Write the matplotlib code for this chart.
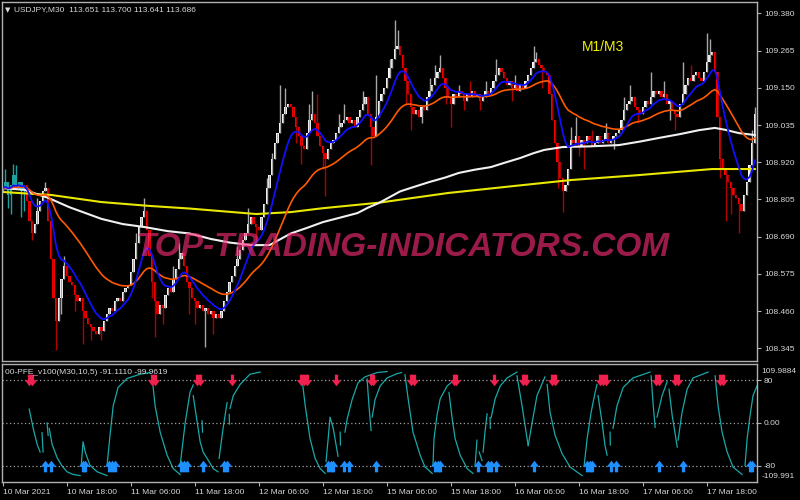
import numpy as np
import pandas as pd
import matplotlib
matplotlib.use("Agg")
import matplotlib.pyplot as plt
from matplotlib.path import Path

plt.rcParams['font.family'] = ['Liberation Sans', 'DejaVu Sans']

# USDJPY M30 closes, one per bar (10 Mar -> 17 Mar 2021)
close = [
    108.84, 108.86, 108.82, 108.85, 108.88, 108.84, 108.86, 108.83, 108.85,          # 0-8
    108.80, 108.74, 108.70, 108.73, 108.77, 108.80, 108.83, 108.84,                  # 9-16
    108.74, 108.62, 108.50, 108.43, 108.50, 108.56, 108.60,                          # 17-23
    108.57, 108.55, 108.54, 108.51, 108.49, 108.50, 108.46, 108.44, 108.42, 108.41, 108.40, 108.39,  # 24-35
    108.41, 108.40, 108.43, 108.45, 108.47, 108.46, 108.49, 108.50, 108.49, 108.52, 108.53, 108.54,  # 36-47
    108.58, 108.62, 108.67, 108.72, 108.75, 108.77,                                  # 48-53
    108.71, 108.63, 108.55, 108.49, 108.45,                                          # 54-58
    108.48, 108.47, 108.51, 108.53, 108.52, 108.56, 108.59, 108.62, 108.64,          # 59-67
    108.60, 108.55, 108.53, 108.50, 108.49, 108.47,                                  # 68-73
    108.48, 108.46, 108.47, 108.45, 108.46, 108.44, 108.45, 108.44, 108.46,          # 74-82
    108.49, 108.52, 108.55, 108.57, 108.60, 108.62, 108.65, 108.68, 108.70, 108.73, 108.75,  # 83-93
    108.73, 108.72, 108.71,                                                          # 94-96
    108.75, 108.79, 108.84, 108.88, 108.93, 108.98, 109.01, 109.04, 109.07, 109.09, 109.10, 109.09,  # 97-108
    109.06, 109.03, 109.00, 108.97, 108.96,                                          # 109-113
    109.01, 109.05, 109.07,                                                          # 114-116
    109.04, 109.00, 108.97, 108.95, 108.93,                                          # 117-121
    108.96, 108.98, 108.99, 109.01, 109.03, 109.04, 109.05, 109.06,                  # 122-129
    109.04, 109.05, 109.03, 109.06,                                                  # 130-133
    109.08, 109.10, 109.12, 109.07, 109.03, 109.00, 109.06, 109.11,                  # 134-141
    109.13, 109.15, 109.18, 109.21, 109.24, 109.27, 109.28,                          # 142-148
    109.25, 109.21, 109.17, 109.13, 109.09, 109.07,                                  # 149-154
    109.08, 109.06, 109.09, 109.08,                                                  # 155-158
    109.12, 109.14, 109.16, 109.18, 109.20, 109.21,                                  # 159-164
    109.18, 109.15, 109.12, 109.10,                                                  # 165-168
    109.13, 109.12, 109.14, 109.13, 109.11, 109.13, 109.12, 109.14,
    109.12, 109.13, 109.11, 109.12, 109.14, 109.13, 109.15,                          # 169-183
    109.17, 109.19, 109.21, 109.20,                                                  # 184-187
    109.18, 109.16, 109.17, 109.15, 109.16, 109.14, 109.16, 109.15, 109.17,          # 188-196
    109.19, 109.21, 109.23, 109.24,                                                  # 197-200
    109.22, 109.21, 109.20, 109.19,                                                  # 201-204
    109.13, 109.05, 108.98, 108.92, 108.87, 108.83,                                  # 205-210
    108.85, 108.90, 108.99,                                                          # 211-213
    108.98, 109.00, 108.97, 108.99, 108.98, 109.00, 108.99, 108.97, 108.98,
    109.00, 108.98, 108.99, 109.01, 108.98, 108.99, 109.00, 109.01, 109.02,          # 214-231
    109.05, 109.08, 109.10, 109.11, 109.12,                                          # 232-236
    109.09, 109.08, 109.07,                                                          # 237-239
    109.09, 109.11, 109.10, 109.12, 109.14, 109.13, 109.14,                          # 240-246
    109.12, 109.13, 109.10, 109.11, 109.08, 109.07, 109.06,                          # 247-253
    109.10, 109.13, 109.16, 109.18, 109.17, 109.19, 109.20,                          # 254-260
    109.18, 109.17, 109.20, 109.23, 109.25, 109.26,                                  # 261-266
    109.20, 109.06, 108.93,                                                          # 267-269
    108.90, 108.88, 108.86, 108.84, 108.82, 108.81, 108.79, 108.77,                  # 270-277
    108.82, 108.86, 108.91, 108.98, 109.07,                                          # 278-282
]
first_open = 108.83

# long wicks (bar, price)
wick_hi = [(1, 108.90), (4, 108.915), (5, 108.91), (13, 108.81), (16, 108.86), (23, 108.63),
           (50, 108.70), (53, 108.81), (64, 108.60), (66, 108.67), (88, 108.66), (92, 108.78),
           (99, 108.87), (101, 108.95), (104, 109.16), (106, 109.15), (115, 109.10),
           (116, 109.14), (118, 109.13), (126, 109.07), (128, 109.10), (135, 109.14),
           (140, 109.19), (145, 109.24), (147, 109.36), (148, 109.33), (160, 109.18),
           (162, 109.22), (164, 109.25), (171, 109.16), (175, 109.17), (181, 109.17),
           (185, 109.24), (192, 109.19), (199, 109.28), (200, 109.26), (213, 109.03),
           (215, 109.06), (221, 109.02), (226, 109.04), (233, 109.12), (235, 109.16),
           (243, 109.20), (248, 109.17), (255, 109.23), (258, 109.22), (264, 109.32),
           (265, 109.30), (281, 109.02), (282, 109.09)]
wick_lo = [(2, 108.78), (3, 108.76), (7, 108.75), (8, 108.77), (11, 108.68), (20, 108.34),
           (22, 108.45), (27, 108.46), (30, 108.36), (33, 108.37), (37, 108.37), (56, 108.50),
           (57, 108.38), (60, 108.42), (70, 108.45), (72, 108.42), (76, 108.35), (79, 108.39),
           (95, 108.68), (110, 108.98), (112, 108.915), (120, 108.90), (121, 108.815),
           (138, 108.91), (151, 109.10), (153, 109.02), (157, 109.04), (166, 109.10),
           (168, 109.03), (173, 109.08), (179, 109.08), (191, 109.11), (202, 109.15),
           (208, 108.84), (210, 108.765), (216, 108.94), (218, 108.90), (229, 108.96),
           (238, 109.04), (250, 109.05), (252, 109.02), (269, 108.87), (271, 108.74),
           (273, 108.76), (276, 108.70)]
n_cyan = 9  # first bars drawn in teal

# slow averages (bar, price)
white_ma = [(0, 108.840), (8, 108.835), (17, 108.810), (25, 108.781), (37, 108.745),
            (45, 108.729), (53, 108.720), (62, 108.707), (70, 108.700), (78, 108.683),
            (85, 108.672), (93, 108.664), (100, 108.664), (108, 108.700), (114, 108.717),
            (120, 108.735), (127, 108.750), (133, 108.763), (137, 108.780), (141, 108.794),
            (145, 108.812), (149, 108.830), (155, 108.846), (160, 108.859), (166, 108.873),
            (171, 108.887), (177, 108.897), (183, 108.905), (188, 108.918), (194, 108.933),
            (199, 108.948), (203, 108.958), (210, 108.967), (220, 108.969), (231, 108.973),
            (239, 108.984), (246, 108.995), (254, 109.007), (261, 109.019), (267, 109.026),
            (271, 109.020), (276, 109.010), (282, 109.004)]
yellow_ma = [(0, 108.828), (18, 108.819), (37, 108.797), (55, 108.785), (70, 108.777),
             (95, 108.760), (108, 108.766), (120, 108.778), (141, 108.795), (167, 108.825),
             (191, 108.846), (213, 108.865), (238, 108.880), (266, 108.899), (282, 108.899)]

price_ticks = [109.380, 109.265, 109.150, 109.035, 108.920, 108.805, 108.690, 108.575, 108.460, 108.345]
date_ticks = list(range(0, 265, 24))
date_labels = ['10 Mar 2021', '10 Mar 18:00', '11 Mar 06:00', '11 Mar 18:00', '12 Mar 06:00',
               '12 Mar 18:00', '15 Mar 06:00', '15 Mar 18:00', '16 Mar 06:00', '16 Mar 18:00',
               '17 Mar 06:00', '17 Mar 18:00']

# PFE oscillator, drawn as broken pieces (bar, value)
pfe_segments = [
    [(9.9, 26), (11.4, -10), (12.9, -40), (14.0, -54)],
    [(14.7, -18), (15.1, -54)],
    [(16.6, 0), (17.0, -23)],
    [(17.4, -10), (18.5, -40), (20.4, -65), (22.2, -80), (24.1, -91), (26.4, -96), (29.0, -98)],
    [(29.4, -79), (30.1, -35), (30.9, -54), (32.7, -79), (35.4, -91), (39.1, -98)],
    [(39.1, -79), (40.2, -23), (41.4, 32), (43.2, 66), (46.6, 83), (51.5, 91), (55.2, 94)],
    [(56.0, 85), (57.1, 32), (59.0, -17), (61.6, -60), (63.9, -85), (66.5, -96)],
    [(66.5, -79), (68.4, 1), (70.2, 57), (71.4, 71)],
    [(71.4, 51), (72.9, 1), (74.0, -35), (75.1, -54), (76.6, -66), (78.9, -85), (80.7, -91)],
    [(74.7, 4), (74.9, -17)],
    [(81.1, -66), (82.6, -10), (84.1, 38)],
    [(84.9, 16), (85.0, -2)],
    [(85.2, 27), (86.4, 51), (89.0, 72), (92.7, 91), (96.5, 95)],
    [(112.2, 82), (113.4, 32), (115.2, -29), (117.1, -66), (119.0, -85), (120.9, -94)],
    [(121.2, -72), (122.0, -29), (122.7, 11), (123.9, -10), (125.7, -62)],
    [(126.5, -17), (126.6, -41)],
    [(128.3, -17), (129.1, 7), (131.0, 44), (133.2, 75), (135.8, 86), (140.3, 94), (144.1, 96)],
    [(136.6, 82), (137.3, 32), (138.1, -14)],
    [(138.5, 11), (139.6, 44), (141.5, 69), (144.1, 84), (147.8, 92), (149.5, 94)],
    [(150.8, 90), (152.0, 45), (153.8, -17), (156.5, -60), (158.3, -82), (161.0, -94)],
    [(161.3, -79), (161.7, -29), (162.8, 14), (164.0, 45), (166.6, 69), (168.8, 78)],
    [(167.3, 57), (168.5, 8), (169.6, -29), (171.5, -60), (174.1, -85), (176.3, -94)],
    [(177.1, -79), (177.8, -32)],
    [(178.6, -54), (179.7, -70)],
    [(180.1, -54), (180.8, -17), (181.6, 17)],
    [(182.7, 10), (182.8, -10)],
    [(183.1, 10), (184.6, 45), (186.5, 69), (189.1, 84), (192.8, 95)],
    [(192.8, 88), (194.7, 32), (196.2, -17), (197.0, -42)],
    [(197.0, -42), (198.5, 1), (200.3, 51), (203.3, 86)],
    [(204.1, 72), (205.2, 20), (207.1, -23), (209.7, -57), (212.7, -82), (217.2, -98)],
    [(218.0, -79), (219.1, -29), (220.6, 20), (222.1, 57), (222.8, 72)],
    [(223.2, 51), (224.7, 1), (225.8, -42), (226.6, -60)],
    [(227.7, -17), (227.8, -41)],
    [(228.8, -10), (230.3, 32), (232.6, 66), (236.3, 84), (242.7, 95)],
    [(243.1, 88), (243.8, 38), (244.6, -8)],
    [(245.3, 11), (247.2, 51), (249.1, 77)],
    [(249.8, 63), (251.0, 14), (252.9, -45)],
    [(253.2, -32), (254.7, 20), (256.6, 63), (258.8, 84), (264.5, 95)],
    [(267.1, 88), (268.2, 32), (269.7, -17), (271.6, -54), (273.8, -82), (277.2, -96)],
    [(278.3, -79), (279.1, -29), (280.2, 14), (281.3, 51), (282.8, 69)],
]
sell_bars = [10, 11, 56, 57, 73, 74, 86, 112, 113, 114, 125, 138, 139, 153, 154, 169, 170,
             184, 195, 196, 206, 207, 224, 225, 226, 245, 246, 252, 253, 269, 270]
buy_bars = [16, 18, 30, 31, 40, 41, 42, 67, 68, 69, 75, 83, 84, 122, 123, 124, 128, 130, 140,
            162, 163, 164, 178, 182, 183, 185, 199, 219, 220, 221, 228, 230, 246, 255, 280, 281]
pfe_levels = [80, 0, -80]
pfe_range = [109.9884, -109.991]

# ---------------------------------------------------------------------------

c = np.array(close)
n = len(c)
idx = np.arange(n)
o = np.r_[first_open, c[:-1]]
top = np.maximum(o, c)
bot = np.minimum(o, c)
hi = top.copy()
lo = bot.copy()
for b, v in wick_hi:
    hi[b] = max(hi[b], v)
for b, v in wick_lo:
    lo[b] = min(lo[b], v)

up = c >= o
body_col = np.where(up, '#ffffff', '#ff0000').astype(object)
wick_col = np.where(up, '#a8a8a8', '#b00000').astype(object)
body_col[:n_cyan] = '#1fa0a0'
wick_col[:n_cyan] = '#1fa0a0'

blue = pd.Series(c).ewm(span=10, adjust=False).mean()
orange = pd.Series(c).ewm(span=34, adjust=False).mean()

BG = 'black'
FG = '#d8d8d8'
fig = plt.figure(figsize=(8, 5), dpi=100, facecolor=BG)
ax = fig.add_axes([2 / 800, 1 - 361 / 500, 755 / 800, 359 / 500], facecolor=BG)
ax2 = fig.add_axes([2 / 800, 1 - 482 / 500, 755 / 800, 118 / 500], facecolor=BG)

# candles
ax.vlines(idx, lo, hi, colors=list(wick_col), linewidth=1.0)
ax.bar(idx, np.maximum(top - bot, 0.004), bottom=bot, width=0.85,
       color=list(body_col), linewidth=0)

ax.plot(*zip(*yellow_ma), color='#e8e800', lw=1.5)
ax.plot(*zip(*white_ma), color='#f0f0f0', lw=1.5)
ax.plot(idx, orange, color='#ff5a00', lw=1.2)
ax.plot(idx, blue, color='#1010ff', lw=1.3)

ax.set_xlim(-0.3, 282.8)
ax.set_ylim(108.306, 109.415)
ax.set_xticks([])
ax.yaxis.tick_right()
ax.set_yticks(price_ticks)
ax.set_yticklabels([f'{p:.3f}' for p in price_ticks])
ax.tick_params(axis='y', colors='#b0b0b0', labelcolor=FG, labelsize=6, length=3, pad=2)

# indicator panel
for seg in pfe_segments:
    xs, ys = zip(*seg)
    ax2.plot(xs, ys, color='#1aa8a8', lw=0.9)
for lv in pfe_levels:
    ax2.axhline(lv, color='#a0a0a0', lw=0.9, ls=(0, (1, 2)))

down = Path([(-0.28, 1), (0.28, 1), (0.28, 0.05), (0.8, 0.05), (0, -1), (-0.8, 0.05),
             (-0.28, 0.05), (-0.28, 1)], closed=True)
upm = Path([(x, -y) for x, y in down.vertices], closed=True)
ax2.scatter(sell_bars, [80] * len(sell_bars), marker=down, s=70, color='#f0204f', lw=0, zorder=3)
ax2.scatter(buy_bars, [-80] * len(buy_bars), marker=upm, s=70, color='#1e8fff', lw=0, zorder=3)

ax2.set_xlim(-0.3, 282.8)
ax2.set_ylim(pfe_range[1], pfe_range[0])
ax2.yaxis.tick_right()
ax2.set_yticks(pfe_levels)
ax2.set_yticklabels(['80', '0.00', '-80'])
ax2.tick_params(axis='y', colors='#b0b0b0', labelcolor=FG, labelsize=6, length=3, pad=2)
ax2.text(1.006, 0.97, f'{pfe_range[0]:.4f}', transform=ax2.transAxes, color=FG,
         fontsize=6, va='top', ha='left')
ax2.text(1.006, 0.02, f'{pfe_range[1]:.3f}', transform=ax2.transAxes, color=FG,
         fontsize=6, va='bottom', ha='left')
ax2.set_xticks(date_ticks)
ax2.set_xticklabels(date_labels)
ax2.tick_params(axis='x', colors='#b0b0b0', labelcolor=FG, labelsize=6, length=3, pad=2)
for lab in ax2.get_xticklabels():
    lab.set_ha('left')

for a in (ax, ax2):
    for s in a.spines.values():
        s.set_color('#b0b0b0')
        s.set_linewidth(1)

# texts
fig.text(5 / 800, 1 - 10 / 500, '\u25bc', color=FG, fontsize=5, va='center', ha='left',
         family=['DejaVu Sans'])
fig.text(14 / 800, 1 - 10 / 500, 'USDJPY,M30  113.651 113.700 113.641 113.686', color=FG,
         fontsize=6, va='center', ha='left')
fig.text(5 / 800, 1 - 372 / 500, '00-PFE_v100(M30,10,5) -91.1110 -99.9619', color=FG,
         fontsize=6, va='center', ha='left')
fig.text(603 / 800, 1 - 47 / 500, 'M1/M3', color='#f0f000', fontsize=10, ha='center', va='center')
fig.text(403 / 800, 1 - 248 / 500, 'TOP-TRADING-INDICATORS.COM', color='#fa2c79', alpha=0.62,
         fontsize=24, fontweight='bold', fontstyle='italic', ha='center', va='center')

fig.savefig('out.png', dpi=100, facecolor=BG)
